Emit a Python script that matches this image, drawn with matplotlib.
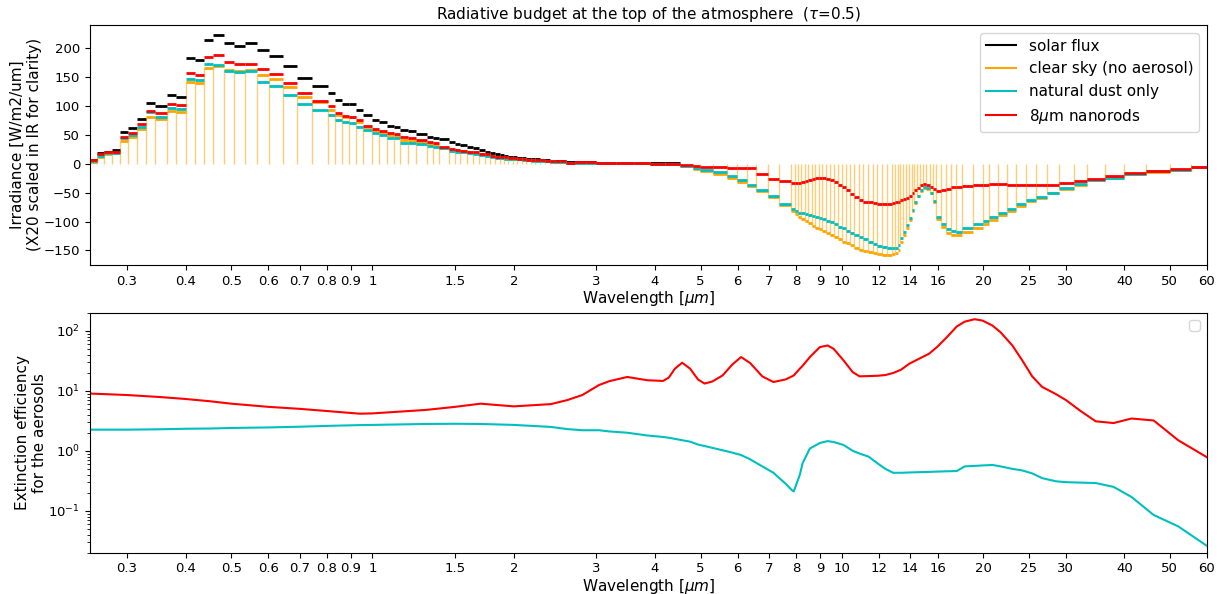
import numpy as np
import matplotlib
matplotlib.use('Agg')
import matplotlib.pyplot as plt
from matplotlib.ticker import FixedLocator, FixedFormatter, NullLocator
from matplotlib.lines import Line2D

# ---------------- band edges (micrometres) ----------------
band_edges = [0.250, 0.2583, 0.268, 0.2784, 0.2894, 0.301, 0.3147, 0.3289, 0.344, 0.364,
              0.3822, 0.4015, 0.4195, 0.4384, 0.4581, 0.4827, 0.5069, 0.5359, 0.5664, 0.6029,
              0.6435, 0.6892, 0.7429, 0.8034, 0.8313, 0.862, 0.8905, 0.9215, 0.9555, 0.9986,
              1.0334, 1.0747, 1.1137, 1.147, 1.191, 1.2406, 1.3075, 1.346, 1.384, 1.453,
              1.502, 1.538, 1.59, 1.638, 1.683, 1.733, 1.782, 1.826, 1.872, 1.909,
              1.949, 1.993, 2.033, 2.082, 2.125, 2.176, 2.222, 2.276, 2.333, 2.391,
              2.451, 2.511, 2.585, 2.7, 2.85, 3.0, 3.3, 3.6, 3.9, 4.2, 4.52,
              4.82, 4.99, 5.32, 5.69, 5.99, 6.27, 6.58, 6.96, 7.35, 7.8125,
              7.937, 8.065, 8.197, 8.333, 8.475, 8.621, 8.772, 8.929, 9.091, 9.259,
              9.434, 9.615, 9.804, 10.0, 10.204, 10.417, 10.638, 10.870, 11.111, 11.364,
              11.628, 11.905, 12.195, 12.5, 12.821,
              12.987, 13.158, 13.333, 13.514, 13.699, 13.889, 14.085, 14.286, 14.493, 14.706,
              14.925, 15.152, 15.385, 15.625, 15.873,
              16.26, 16.667, 17.094, 17.544, 18.018, 19.048, 20.0, 20.619, 21.505, 22.472,
              23.529, 24.691, 25.974, 27.397, 28.986, 31.25, 33.333, 36.364, 40.0, 44.444,
              50.0, 55.556, 60.606]

# ---------------- irradiance per band [W/m2/um] (x20 in IR) ----------------
solar_flux = [6, 18, 21, 24, 55, 62, 78, 105, 99, 119,
              115, 183, 179, 214, 222, 209, 204, 208, 197, 187,
              169, 148, 134, 122, 110, 103, 103, 93, 85, 76,
              72, 66, 64, 58.5, 56, 51.6, 47, 45, 42, 37,
              34, 32, 29, 27, 24, 21, 18.5, 16, 14.5, 13.5,
              12.5, 11, 10, 9.5, 8.5, 8, 7.5, 7, 6.5, 5.5,
              5, 4.6, 3, 2.4, 2.3, 1.8, 1.7, 1.5, 0.8, 0.5]

clear_sky = [3, 12, 17, 18, 40, 46, 60, 80, 77, 92,
             89, 141, 140, 165, 169, 162, 161, 162, 153, 146,
             132, 115, 106, 93, 85, 81, 80, 72, 63, 57,
             54, 50, 48, 41, 40, 38, 34, 32, 28, 24,
             23, 21.5, 20, 18.5, 16.5, 15, 13, 11.5, 10.5, 10,
             9, 8.5, 8, 7.5, 6.5, 6, 5.5, 5, 4.5, 4,
             3.5, 3, 1, 1.8, 1.8, 1.0, 1.0, 1.0, 0.2, -1,
             -4, -8.5, -12, -17, -24, -31, -38, -47, -58, -72,
             -81.7, -87.5, -92, -96, -99, -102, -107, -110.7, -113, -116,
             -120, -124, -127, -131, -134.5, -137.5, -141, -145, -148.5, -151,
             -153, -155, -156, -157, -157,
             -156.5, -155, -150, -136, -124, -111, -97, -82, -68, -56,
             -47, -42, -43, -51, -66,
             -95, -109, -119, -123, -124, -118, -111, -104, -97, -89,
             -82, -73, -65, -58.5, -51, -43, -36, -29, -24.5, -18.5,
             -13.5, -10.5, -6]

natural_dust = [4, 14, 18, 19, 44, 50, 64, 89, 80, 96,
                94, 147, 145, 173, 171, 160, 158, 161, 141, 135,
                118, 103, 93, 84, 75, 72, 71, 64, 58, 53,
                50, 45, 44, 36, 35, 34, 31, 29.5, 26.7, 22.6,
                21, 20, 18.5, 17, 15.5, 14, 12, 10.5, 9.5, 9,
                8.5, 8, 7.5, 7, 6, 5.5, 5, 4.8, 4.3, 3.8,
                3.3, 3, 1, 1.8, 1.8, 1.0, 1.0, 1.0, 0.2, -1,
                -3.5, -7, -11, -15, -21, -28, -36, -45, -55, -69,
                -78.8, -81.7, -84.6, -86, -87.5, -88.5, -90, -91.6, -94, -96,
                -99, -101.5, -105, -108.6, -112, -116, -119.5, -123.5, -127.5, -131,
                -134.5, -138.5, -142, -144.5, -146,
                -146.5, -145, -140, -128, -118, -106, -94, -80, -66, -55,
                -45, -40, -42, -50, -64,
                -92, -105, -113, -117, -118, -112, -105, -99, -92, -85,
                -79, -70, -63, -57, -50, -42, -35.5, -28.5, -24, -18,
                -13, -10, -5.5]

nanorods = [6, 16, 20, 20, 47, 53, 68, 92, 87, 103,
            101, 157, 154, 184, 188, 176, 172, 173, 163, 156,
            139, 122, 108, 99, 88, 82, 81, 75, 66, 60,
            57, 53, 51, 46, 44, 41.7, 37, 35, 29.6, 25.5,
            24, 22.5, 21, 19.5, 17.5, 16, 14, 12.5, 11.5, 11,
            10, 9.5, 8.7, 8, 7.3, 6.8, 6.2, 5.8, 5.2, 4.5,
            4, 4, 1.2, 2.3, 2.3, 1.2, 1.2, 1.2, 0.3, 0,
            -2, -4, -5.5, -6.5, -7, -7, -8, -17, -26, -30.5,
            -33, -33, -33, -32, -30, -28, -26.7, -25.5, -25.5, -25.5,
            -26, -28, -31, -37, -41, -46, -52, -58, -63, -65.5,
            -66.5, -68, -69, -69.5, -69.5,
            -68, -67, -65.5, -63.5, -61.5, -59.7, -56, -51, -46, -42,
            -37, -35, -36.5, -40, -44,
            -47, -45, -43, -41, -40, -38, -36.5, -36, -35.5, -35.5,
            -36, -36.5, -37, -37, -36, -34, -30, -26, -21, -16,
            -12, -9, -5]

# ---------------- extinction efficiency ----------------
ext_wavelength = [0.25, 0.3, 0.35, 0.4, 0.45, 0.5, 0.6, 0.7, 0.8, 0.94,
                  1.0, 1.3, 1.5, 1.7, 2.0, 2.4, 2.6, 2.8, 3.04, 3.2,
                  3.49, 3.85, 4.16, 4.28, 4.41, 4.57, 4.75, 4.94, 5.10, 5.30,
                  5.57, 5.85, 6.10, 6.38, 6.77, 7.15, 7.6, 7.83, 7.9, 8.14,
                  8.25, 8.55, 8.98, 9.33, 9.61, 10.09, 10.55, 10.91, 11.4, 11.91,
                  12.38, 12.87, 13.38, 13.92, 14.61, 15.34, 15.95, 16.74, 17.58, 18.28,
                  19.19, 19.95, 20.95, 21.78, 23.09, 24.25, 25.45, 26.73, 28.6, 30.04,
                  32.16, 34.76, 37.95, 41.43, 46.2, 52.1, 60]

ext_nanorods = [9.0, 8.5, 7.9, 7.3, 6.7, 6.1, 5.4, 5.0, 4.6, 4.15,
                4.2, 4.8, 5.4, 6.1, 5.5, 6.0, 7.0, 8.5, 12.5, 14.5,
                17, 15, 14.6, 16.6, 23.4, 29.4, 23.4, 15.4, 13.2, 14.3,
                18, 27.6, 36.5, 29, 17.4, 14, 15.5, 17.4, 18, 23.4,
                26, 36.5, 53.5, 57, 50, 32, 20.5, 17.4, 17.6, 17.8,
                18.3, 19.8, 22.5, 28.2, 34.2, 41.4, 53.4, 78, 118, 142,
                156, 148, 122, 95, 57, 32, 17.4, 11.6, 8.8, 7.0,
                4.7, 3.1, 2.9, 3.45, 3.2, 1.5, 0.78]

ext_dust = [2.25, 2.25, 2.28, 2.33, 2.35, 2.4, 2.45, 2.52, 2.6, 2.68,
            2.7, 2.8, 2.82, 2.8, 2.7, 2.5, 2.3, 2.2, 2.2, 2.1,
            2.0, 1.8, 1.7, 1.65, 1.58, 1.5, 1.42, 1.27, 1.2, 1.12,
            1.02, 0.93, 0.85, 0.72, 0.55, 0.43, 0.28, 0.22, 0.21, 0.40,
            0.62, 1.09, 1.35, 1.45, 1.4, 1.25, 1.0, 0.90, 0.80, 0.62,
            0.50, 0.43, 0.43, 0.435, 0.44, 0.445, 0.45, 0.455, 0.46, 0.55,
            0.56, 0.57, 0.58, 0.55, 0.5, 0.47, 0.42, 0.35, 0.31, 0.30,
            0.295, 0.29, 0.25, 0.17, 0.085, 0.055, 0.026]

tick_values = [0.3, 0.4, 0.5, 0.6, 0.7, 0.8, 0.9, 1, 1.5, 2, 3, 4, 5, 6, 7, 8, 9, 10,
               12, 14, 16, 20, 25, 30, 40, 50, 60]
tick_labels = ['0.3', '0.4', '0.5', '0.6', '0.7', '0.8', '0.9', '1', '1.5', '2', '3', '4',
               '5', '6', '7', '8', '9', '10', '12', '14', '16', '20', '25', '30', '40',
               '50', '60']

# ---------------- figure ----------------
fig = plt.figure(figsize=(12.22, 5.94), dpi=100)
ax1 = fig.add_axes([0.0736, 0.554, 0.9141, 0.404])
ax2 = fig.add_axes([0.0736, 0.0695, 0.9141, 0.404])

e = np.array(band_edges)
left, right = e[:-1], e[1:]
ns = len(solar_flux)

ax1.vlines(left, 0, clear_sky, colors='orange', alpha=0.55, lw=1)
ax1.hlines(solar_flux, left[:ns], right[:ns], colors='k', lw=2)
ax1.hlines(clear_sky, left, right, colors='orange', lw=2)
ax1.hlines(natural_dust, left, right, colors='c', lw=2)
ax1.hlines(nanorods, left, right, colors='r', lw=2)

handles = [Line2D([], [], color='k', lw=1.5), Line2D([], [], color='orange', lw=1.5),
           Line2D([], [], color='c', lw=1.5), Line2D([], [], color='r', lw=1.5)]
ax1.legend(handles, ['solar flux', 'clear sky (no aerosol)', 'natural dust only',
                     r'8$\mu$m nanorods'], loc='upper right', fontsize=11)

ax1.set_ylim(-175, 240)
ax1.set_yticks([-150, -100, -50, 0, 50, 100, 150, 200])
ax1.set_ylabel('Irradiance [W/m2/um]\n(X20 scaled in IR for clarity)', fontsize=11,
               labelpad=1)
ax1.set_title(r'Radiative budget at the top of the atmosphere  ($\tau$=0.5)', fontsize=11,
              pad=4)

ax2.plot(ext_wavelength, ext_nanorods, color='r', lw=1.5)
ax2.plot(ext_wavelength, ext_dust, color='c', lw=1.5)
ax2.set_yscale('log')
ax2.set_ylim(0.02, 200)
ax2.set_ylabel('Extinction efficiency\nfor the aerosols', fontsize=11, labelpad=1)
ax2.legend(handles=[], loc='upper right')

for ax in (ax1, ax2):
    ax.set_xscale('log')
    ax.set_xlim(0.25, 60)
    ax.xaxis.set_major_locator(FixedLocator(tick_values))
    ax.xaxis.set_major_formatter(FixedFormatter(tick_labels))
    ax.xaxis.set_minor_locator(NullLocator())
    ax.tick_params(labelsize=9.5)
    ax.set_xlabel(r'Wavelength [$\mu m$]', fontsize=11, labelpad=1)

fig.savefig('out.png', dpi=100)
